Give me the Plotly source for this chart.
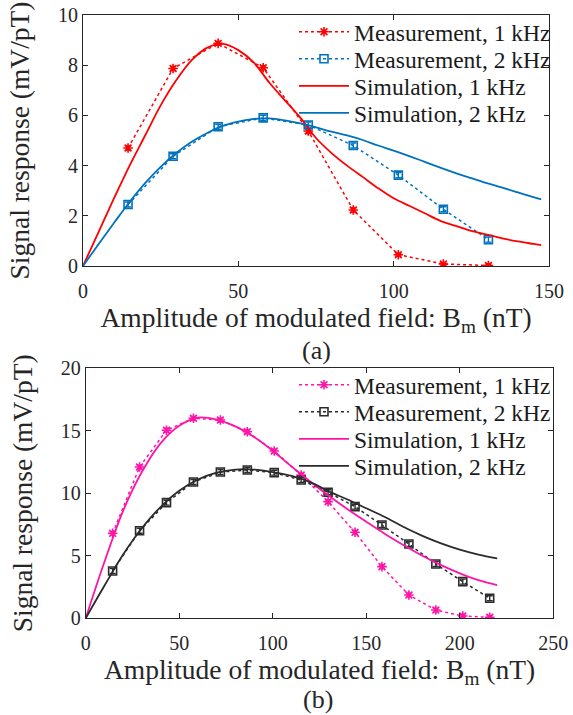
import plotly.graph_objects as go

# ---------------- Data: panel (a) ----------------
a_meas_x = [14.5, 29, 43.5, 58, 72.5, 87, 101.5, 116, 130.5]
a_meas_1k = [4.7, 7.87, 8.87, 7.9, 5.38, 2.23, 0.45, 0.08, 0.02]
a_meas_1k_err = [0.08, 0.08, 0.08, 0.08, 0.1, 0.08, 0.06, 0.05, 0.05]
a_meas_2k = [2.45, 4.37, 5.55, 5.9, 5.62, 4.8, 3.62, 2.26, 1.05]
a_meas_2k_err = [0.1, 0.1, 0.1, 0.1, 0.12, 0.1, 0.1, 0.1, 0.1]

a_sim_x = [0, 5, 10, 15, 20, 25, 30, 35, 40, 45, 50, 55, 60, 65, 70, 75, 80, 85, 90,
           95, 100, 105, 110, 115, 120, 125, 130, 135, 140, 145, 147.5]
a_sim_1k = [0, 1.35, 2.7, 4.0, 5.2, 6.4, 7.4, 8.2, 8.7, 8.85, 8.6, 8.1, 7.3, 6.6, 5.9,
            5.1, 4.5, 4.0, 3.55, 3.1, 2.7, 2.4, 2.1, 1.8, 1.6, 1.4, 1.25, 1.1, 0.98, 0.88, 0.83]
a_sim_2k = [0, 0.87, 1.72, 2.55, 3.3, 3.95, 4.5, 4.95, 5.3, 5.58, 5.75, 5.86, 5.88, 5.8,
            5.68, 5.52, 5.35, 5.2, 5.02, 4.8, 4.6, 4.38, 4.15, 3.92, 3.7, 3.5, 3.3, 3.12,
            2.93, 2.74, 2.65]

# ---------------- Data: panel (b) ----------------
b_meas_x = [14.4, 28.8, 43.2, 57.6, 72, 86.4, 100.8, 115.2, 129.6, 144, 158.4, 172.8,
            187.2, 201.6, 216]
b_meas_1k = [6.8, 12.1, 15.05, 16.0, 15.86, 14.93, 13.38, 11.46, 9.33, 6.88, 4.13, 1.86,
             0.66, 0.18, 0.08]
b_meas_1k_err = [0.15] * 15
b_meas_2k = [3.78, 7.0, 9.25, 10.9, 11.7, 11.86, 11.65, 11.06, 10.08, 8.93, 7.46, 5.94,
             4.34, 2.93, 1.6]
b_meas_2k_err = [0.2] * 15

b_sim_x = [0, 10, 20, 30, 40, 50, 60, 70, 80, 90, 100, 110, 120, 130, 140, 150, 160,
           170, 180, 190, 200, 210, 220]
b_sim_1k = [0, 4.5, 8.6, 11.7, 14.0, 15.4, 16.05, 15.9, 15.35, 14.5, 13.4, 12.15, 10.95,
            9.8, 8.72, 7.72, 6.75, 5.85, 5.0, 4.25, 3.6, 3.05, 2.65]
b_sim_2k = [0, 2.6, 5.1, 7.2, 8.9, 10.2, 11.1, 11.65, 11.9, 11.9, 11.7, 11.4, 10.9, 10.15,
            9.5, 8.8, 8.1, 7.3, 6.6, 6.0, 5.5, 5.1, 4.8]

x_ticks_a = [0, 50, 100, 150]
y_ticks_a = [0, 2, 4, 6, 8, 10]
x_ticks_b = [0, 50, 100, 150, 200, 250]
y_ticks_b = [0, 5, 10, 15, 20]

labels = ["Measurement, 1 kHz", "Measurement, 2 kHz", "Simulation, 1 kHz", "Simulation, 2 kHz"]
x_title = "Amplitude of modulated field: B<sub>m</sub> (nT)"
y_title = "Signal response (mV/pT)"

RED = "#FF0000"
BLUE = "#0072BD"
MAG = "#FF14A8"
BLK = "#2B2B2B"
AX = "#262626"
FONT = "Liberation Serif, Times New Roman, Times, serif"

fig = go.Figure()


def meas(x, y, err, color, symbol, name, xa, ya, leg, size):
    return go.Scatter(
        x=x, y=y, name=name, mode="lines+markers", xaxis=xa, yaxis=ya, legend=leg,
        line=dict(color=color, width=1.5, dash="dot"),
        marker=dict(symbol=symbol, size=size, color=color,
                    line=dict(color=color, width=1.6)),
        error_y=dict(type="data", array=err, visible=True, color=color, thickness=1.4, width=3),
    )


def sim(x, y, color, name, xa, ya, leg):
    return go.Scatter(
        x=x, y=y, name=name, mode="lines", xaxis=xa, yaxis=ya, legend=leg,
        line=dict(color=color, width=1.8, shape="spline"),
    )


fig.add_trace(meas(a_meas_x, a_meas_1k, a_meas_1k_err, RED, "asterisk-open", labels[0], "x", "y", "legend", 8))
fig.add_trace(meas(a_meas_x, a_meas_2k, a_meas_2k_err, BLUE, "square-open", labels[1], "x", "y", "legend2", 8))
fig.add_trace(sim(a_sim_x, a_sim_1k, RED, labels[2], "x", "y", "legend3"))
fig.add_trace(sim(a_sim_x, a_sim_2k, BLUE, labels[3], "x", "y", "legend4"))

fig.add_trace(meas(b_meas_x, b_meas_1k, b_meas_1k_err, MAG, "asterisk-open", labels[0], "x2", "y2", "legend5", 8))
fig.add_trace(meas(b_meas_x, b_meas_2k, b_meas_2k_err, BLK, "square-open", labels[1], "x2", "y2", "legend6", 8))
fig.add_trace(sim(b_sim_x, b_sim_1k, MAG, labels[2], "x2", "y2", "legend7"))
fig.add_trace(sim(b_sim_x, b_sim_2k, BLK, labels[3], "x2", "y2", "legend8"))

W, H = 573, 715


def px_x(p):
    return p / W


def px_y(p):
    return 1 - p / H


axis_common = dict(
    showline=True, linecolor=AX, linewidth=1, mirror="ticks", ticks="inside",
    ticklen=5, tickcolor=AX, showgrid=False, zeroline=False, automargin=False,
    tickfont=dict(family=FONT, size=20, color=AX),
    title_font=dict(family=FONT, size=27.5, color=AX),
)

leg_common = dict(
    font=dict(family=FONT, size=23.5, color="#1a1a1a"),
    bgcolor="rgba(255,255,255,0)", borderwidth=0, itemwidth=50,
    tracegroupgap=0, xanchor="left", yanchor="middle", traceorder="normal",
)

legend_rows = {
    "legend": 32, "legend2": 59, "legend3": 86, "legend4": 113,
    "legend5": 385, "legend6": 412, "legend7": 439, "legend8": 466,
}
legends = {k: dict(x=px_x(294), y=px_y(v), **leg_common) for k, v in legend_rows.items()}

fig.update_layout(
    width=W, height=H, margin=dict(l=0, r=0, t=0, b=0, autoexpand=False),
    paper_bgcolor="white", plot_bgcolor="white",
    showlegend=True,
    font=dict(family=FONT, color=AX),
    xaxis=dict(domain=[px_x(83), px_x(549)], range=[0, 150], tickvals=x_ticks_a,
               anchor="y", ticklabelstandoff=7, title=dict(text=x_title, standoff=0), **axis_common),
    yaxis=dict(domain=[px_y(266), px_y(15)], range=[0, 10], tickvals=y_ticks_a,
               anchor="x", title=dict(text=y_title, standoff=20), **axis_common),
    xaxis2=dict(domain=[px_x(85.7), px_x(553.3)], range=[0, 250], tickvals=x_ticks_b,
                anchor="y2", ticklabelstandoff=7, title=dict(text=x_title, standoff=0), **axis_common),
    yaxis2=dict(domain=[px_y(618.3), px_y(368.3)], range=[0, 20], tickvals=y_ticks_b,
                anchor="x2", title=dict(text=y_title, standoff=20), **axis_common),
    annotations=[
        dict(text="(a)", x=px_x(316), y=px_y(350), xref="paper", yref="paper",
             xanchor="center", yanchor="middle",
             showarrow=False, font=dict(family=FONT, size=26, color=AX)),
        dict(text="(b)", x=px_x(318), y=px_y(699), xref="paper", yref="paper",
             xanchor="center", yanchor="middle",
             showarrow=False, font=dict(family=FONT, size=26, color=AX)),
    ],
    **legends,
)

fig.write_html("out.html", config={"displayModeBar": False},
               post_script="document.body.style.margin='0';")
